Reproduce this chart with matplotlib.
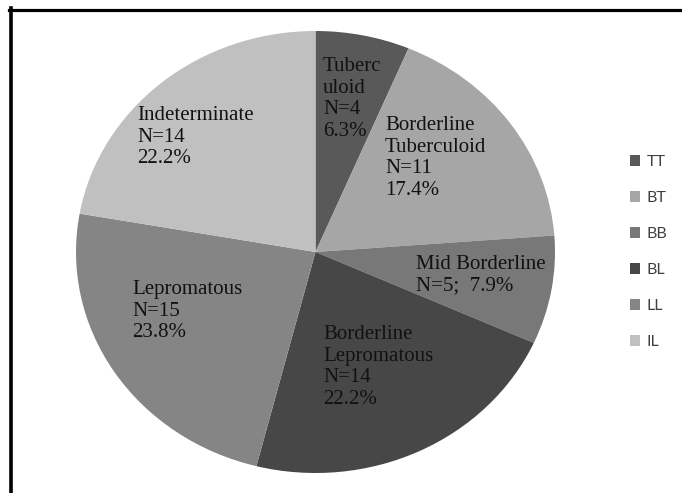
import matplotlib
matplotlib.use("Agg")
import matplotlib.pyplot as plt
from matplotlib.patches import Patch
from matplotlib.lines import Line2D

# data
codes = ["TT", "BT", "BB", "BL", "LL", "IL"]
counts = [4, 11, 5, 14, 15, 14]
slice_labels = [
    "Tuberc\nuloid\nN=4\n6.3%",
    "Borderline\nTuberculoid\nN=11\n17.4%",
    "Mid Borderline\nN=5;  7.9%",
    "Borderline\nLepromatous\nN=14\n22.2%",
    "Lepromatous\nN=15\n23.8%",
    "Indeterminate\nN=14\n22.2%",
]
colors = ["#595959", "#a6a6a6", "#787878", "#474747", "#858585", "#c0c0c0"]

W, H = 682, 493
# label anchor points in pixels (left, vertical centre)
label_pos = [(323, 99), (385, 158), (416, 275), (323, 367), (132, 311), (137, 137)]

fig = plt.figure(figsize=(W / 100, H / 100), dpi=100)
fig.patch.set_facecolor("white")

# pie is drawn as an ellipse (stretched like the original)
ax = fig.add_axes([76 / W, 1 - 473 / H, 479 / W, 442 / H])
ax.pie(counts, colors=colors, startangle=90, counterclock=False,
       wedgeprops=dict(linewidth=0, edgecolor="none"), radius=1)
ax.set_aspect("auto")
ax.set_xlim(-1, 1)
ax.set_ylim(-1, 1)
ax.axis("off")

for txt, (px, py) in zip(slice_labels, label_pos):
    fig.text(px / W, 1 - py / H, txt, ha="left", va="center",
             family="Liberation Serif", fontsize=15, color="#111111",
             linespacing=1.2)

handles = [Patch(facecolor=c, edgecolor="none") for c in colors]
leg = fig.legend(handles, codes, loc="center left",
                 bbox_to_anchor=(630 / W, 1 - 252 / H), frameon=False,
                 prop=dict(family="Lato", size=11.5),
                 handlelength=0.65, handleheight=0.65, handletextpad=0.4,
                 labelspacing=1.38, borderpad=0, borderaxespad=0)
for t in leg.get_texts():
    t.set_color("#404040")

# black frame on top and left
fig.add_artist(Line2D([9 / W, 1], [1 - 9.5 / H, 1 - 9.5 / H], color="black",
                      linewidth=2.3, transform=fig.transFigure))
fig.add_artist(Line2D([10.5 / W, 10.5 / W], [0, 1 - 8 / H], color="black",
                      linewidth=2.6, transform=fig.transFigure))

fig.savefig("out.png", dpi=100, facecolor="white")
